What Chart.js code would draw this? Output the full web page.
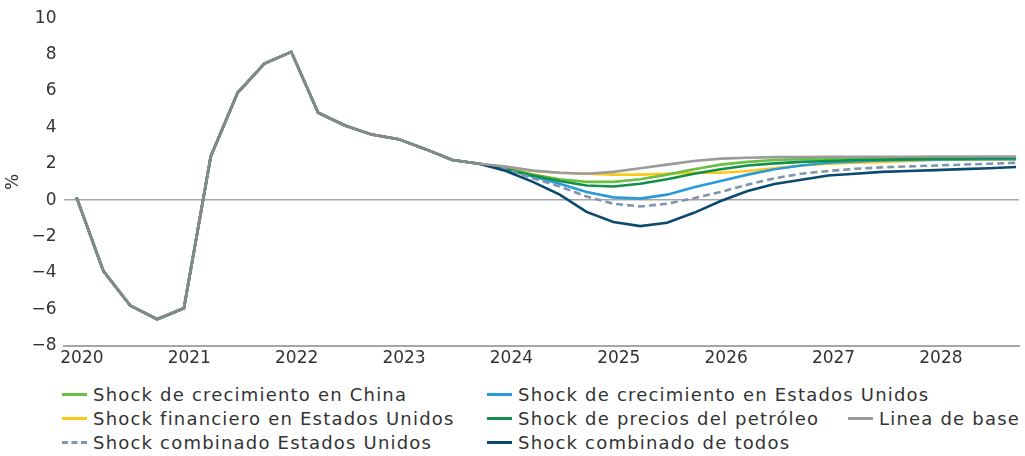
<!DOCTYPE html>
<html>
<head>
<meta charset="utf-8">
<script src="https://cdn.jsdelivr.net/npm/chart.js@4.4.1/dist/chart.umd.min.js"></script>
<style>
  html, body { margin: 0; padding: 0; background: #fff; }
  body { width: 1025px; height: 456px; position: relative; overflow: hidden; font-family: "DejaVu Sans", sans-serif; color: #333; }
  #caja { position: absolute; left: 0; top: 0; width: 1025px; height: 372px; }
  #leyenda { position: absolute; left: 0; top: 383px; width: 1025px; height: 73px; }
  .item { position: absolute; display: flex; align-items: center; font-size: 18px; letter-spacing: 1.2px; line-height: 23px; white-space: nowrap; color: #333; }
  .muestra { width: 25px; height: 0; border-top: 3px solid; margin-right: 6px; }
</style>
</head>
<body>
<div id="caja"><canvas id="grafico"></canvas></div>
<div id="leyenda"></div>
<script>
// trimestres 2020T1 .. 2028T4
const anios = ["2020", "2021", "2022", "2023", "2024", "2025", "2026", "2027", "2028"];
const ticksY = [10, 8, 6, 4, 2, 0, -2, -4, -6, -8];

// historia comun 2020T1 - 2023T4
const historia = [0.15, -3.9, -5.8, -6.55, -5.95, 2.4, 5.9, 7.5, 8.15, 4.8, 4.1, 3.6, 3.35, 2.8, 2.2, 2.0];

// proyecciones 2024T1 - 2028T4
const lineaBase = [1.85, 1.62, 1.5, 1.45, 1.55, 1.75, 1.95, 2.15, 2.28, 2.33, 2.36, 2.37, 2.38, 2.38, 2.38, 2.38, 2.4, 2.4, 2.4, 2.4];
const shockChina = [1.75, 1.4, 1.15, 1.0, 1.0, 1.15, 1.4, 1.7, 1.95, 2.1, 2.2, 2.25, 2.28, 2.3, 2.3, 2.3, 2.32, 2.33, 2.33, 2.35];
const shockEEUU = [1.7, 1.3, 0.9, 0.45, 0.15, 0.08, 0.3, 0.7, 1.05, 1.4, 1.7, 1.9, 2.05, 2.12, 2.18, 2.2, 2.22, 2.23, 2.25, 2.25];
const shockFinanciero = [1.8, 1.6, 1.5, 1.45, 1.4, 1.4, 1.45, 1.5, 1.5, 1.6, 1.75, 1.9, 2.0, 2.05, 2.1, 2.15, 2.2, 2.2, 2.22, 2.23];
const shockPetroleo = [1.7, 1.35, 1.05, 0.8, 0.75, 0.9, 1.15, 1.45, 1.7, 1.9, 2.02, 2.1, 2.15, 2.2, 2.22, 2.25, 2.27, 2.28, 2.3, 2.3];
const combinadoEEUU = [1.7, 1.2, 0.75, 0.2, -0.2, -0.35, -0.2, 0.1, 0.45, 0.85, 1.2, 1.45, 1.6, 1.72, 1.8, 1.85, 1.9, 1.95, 2.0, 2.05];
const combinadoTodos = [1.6, 1.0, 0.3, -0.65, -1.2, -1.43, -1.25, -0.7, -0.05, 0.5, 0.88, 1.12, 1.35, 1.45, 1.55, 1.6, 1.65, 1.7, 1.75, 1.82];

const series = [
    { nombre: "Shock de crecimiento en China", datos: shockChina, color: "#6abf45", orden: 5 },
    { nombre: "Shock de crecimiento en Estados Unidos", datos: shockEEUU, color: "#2b9ad8", orden: 4 },
    { nombre: "Shock financiero en Estados Unidos", datos: shockFinanciero, color: "#fcc914", orden: 6 },
    { nombre: "Shock de precios del petróleo", datos: shockPetroleo, color: "#12904a", orden: 3 },
    { nombre: "Linea de base", datos: lineaBase, color: "#9b9b9b", orden: 0 },
    { nombre: "Shock combinado Estados Unidos", datos: combinadoEEUU, color: "#7f95ad", orden: 2, guiones: true },
    { nombre: "Shock combinado de todos", datos: combinadoTodos, color: "#0b4a6f", orden: 1 }
];

const colorHistoria = "#808c8a";
const nHist = historia.length;

function puntos(proy) {
    return historia.concat(proy).map((v, i) => ({ x: i, y: v }));
}

const datasets = series.map(s => ({
    label: s.nombre,
    data: puntos(s.datos),
    borderColor: s.color,
    backgroundColor: s.color,
    borderWidth: 2.6,
    borderDash: s.guiones ? [7, 4] : [],
    pointRadius: 0,
    tension: 0,
    order: s.orden,
    segment: {
        borderColor: ctx => ctx.p1DataIndex < nHist ? colorHistoria : s.color,
        borderDash: ctx => ctx.p1DataIndex < nHist ? [] : (s.guiones ? [7, 4] : [])
    }
}));

const fuente = { family: "DejaVu Sans", size: 17 };

const ctx = document.querySelector("#grafico");
const chart = new Chart(ctx, {
    type: "line",
    data: { datasets: datasets },
    options: {
        responsive: true,
        maintainAspectRatio: false,
        animation: false,
        layout: { padding: { top: 9, right: 6, left: 3, bottom: 0 } },
        plugins: { legend: { display: false }, tooltip: { enabled: false } },
        scales: {
            x: {
                type: "linear",
                min: -0.45,
                max: 35.11,
                afterBuildTicks: escala => {
                    escala.ticks = anios.map((a, k) => ({ value: k * 4 + 0.2 }));
                },
                ticks: {
                    autoSkip: false,
                    maxRotation: 0,
                    padding: 3,
                    color: "#333",
                    font: fuente,
                    callback: v => anios[Math.round((v - 0.2) / 4)]
                },
                grid: { display: false, drawTicks: false },
                border: { display: true, color: "#a6a6a6", width: 2 }
            },
            y: {
                min: -8,
                max: 10,
                afterBuildTicks: escala => {
                    escala.ticks = ticksY.map(v => ({ value: v }));
                },
                ticks: {
                    padding: 8,
                    color: "#333",
                    font: fuente,
                    callback: v => String(v).replace("-", "\u2212")
                },
                grid: {
                    drawTicks: false,
                    lineWidth: 1.5,
                    color: c => c.tick && c.tick.value === 0 ? "#a6a6a6" : "rgba(0,0,0,0)"
                },
                border: { display: false },
                title: {
                    display: true,
                    text: "%",
                    color: "#333",
                    font: fuente,
                    padding: { top: 0, bottom: 0 }
                }
            }
        }
    }
});

// leyenda en columnas, como en el original
const posiciones = [
    [62, 0], [487, 0],
    [62, 24], [487, 24], [848, 24],
    [62, 48], [487, 48]
];
const leyenda = document.querySelector("#leyenda");
series.forEach((s, i) => {
    const item = document.createElement("div");
    item.className = "item";
    item.style.left = posiciones[i][0] + "px";
    item.style.top = posiciones[i][1] + "px";
    const muestra = document.createElement("span");
    muestra.className = "muestra";
    muestra.style.borderTopColor = s.color;
    if (s.guiones) muestra.style.borderTopStyle = "dashed";
    const texto = document.createElement("span");
    texto.textContent = s.nombre;
    item.appendChild(muestra);
    item.appendChild(texto);
    leyenda.appendChild(item);
});
</script>
</body>
</html>
